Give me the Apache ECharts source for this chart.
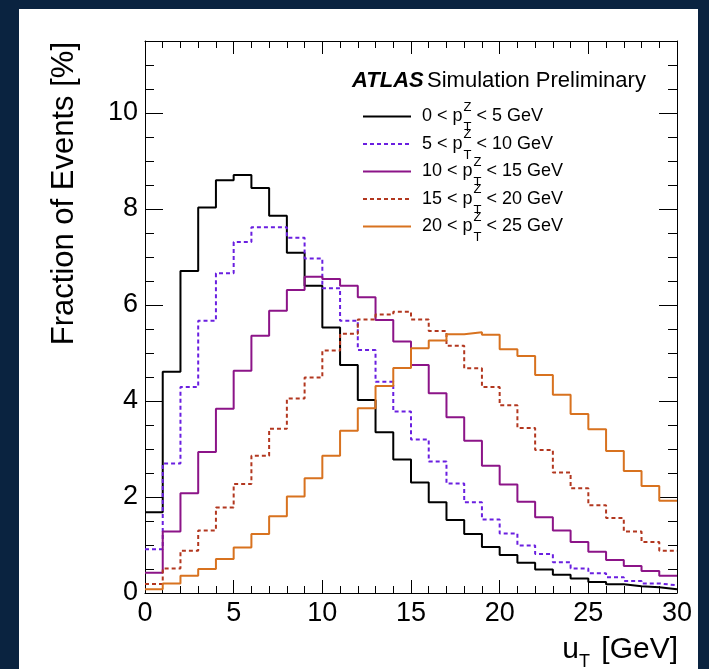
<!DOCTYPE html>
<html>
<head>
<meta charset="utf-8">
<script src="https://cdn.jsdelivr.net/npm/echarts@6/dist/echarts.min.js"></script>
<style>
  html, body { margin:0; padding:0; width:709px; height:669px; background:#0a2340; overflow:hidden; }
  #panel { position:absolute; left:19px; top:9px; width:679px; height:660px; background:#ffffff; }
  #chart { position:absolute; left:0; top:0; width:709px; height:669px; }
</style>
</head>
<body>
<div id="panel"></div>
<div id="chart"></div>
<script>
// Bin edges: 0..30 GeV, 1 GeV bins (lower edges)
var binEdges = [0,1,2,3,4,5,6,7,8,9,10,11,12,13,14,15,16,17,18,19,20,21,22,23,24,25,26,27,28,29,30];

// Fraction of events [%] per bin
var pt0to5   = [1.68, 4.61, 6.71, 8.03, 8.60, 8.71, 8.44, 7.86, 7.09, 6.40, 5.53, 4.75, 4.02, 3.35, 2.78, 2.30, 1.89, 1.52, 1.23, 0.96, 0.79, 0.63, 0.49, 0.38, 0.30, 0.23, 0.18, 0.14, 0.12, 0.08];
var pt5to10  = [0.91, 2.70, 4.29, 5.67, 6.66, 7.31, 7.62, 7.62, 7.40, 6.97, 6.35, 5.67, 5.06, 4.40, 3.78, 3.20, 2.74, 2.28, 1.89, 1.53, 1.24, 0.99, 0.81, 0.64, 0.51, 0.41, 0.33, 0.25, 0.20, 0.16];
var pt10to15 = [0.42, 1.28, 2.08, 2.94, 3.84, 4.63, 5.36, 5.88, 6.31, 6.59, 6.54, 6.40, 6.16, 5.69, 5.24, 4.75, 4.16, 3.66, 3.17, 2.65, 2.26, 1.90, 1.58, 1.30, 1.06, 0.86, 0.69, 0.56, 0.46, 0.36];
var pt15to20 = [0.19, 0.51, 0.88, 1.30, 1.78, 2.27, 2.86, 3.42, 4.05, 4.49, 5.05, 5.40, 5.70, 5.80, 5.86, 5.70, 5.46, 5.15, 4.68, 4.29, 3.91, 3.44, 2.98, 2.51, 2.18, 1.83, 1.56, 1.28, 1.06, 0.88];
var pt20to25 = [0.08, 0.20, 0.36, 0.50, 0.71, 0.95, 1.23, 1.60, 2.01, 2.39, 2.86, 3.38, 3.85, 4.31, 4.69, 5.10, 5.26, 5.39, 5.43, 5.38, 5.08, 4.94, 4.54, 4.13, 3.73, 3.41, 2.96, 2.54, 2.23, 1.92];

// Legend labels (prefix, suffix around p_T^Z)
var legendPrefix = ['0 < p', '5 < p', '10 < p', '15 < p', '20 < p'];
var legendSuffix = [' < 5 GeV', ' < 10 GeV', ' < 15 GeV', ' < 20 GeV', ' < 25 GeV'];

var xTicks = [0, 5, 10, 15, 20, 25, 30];
var yTicks = [0, 2, 4, 6, 8, 10];

var seriesDefs = [
  { name: legendPrefix[0] + 'Z' + legendSuffix[0], data: pt0to5,   color: '#000000', dash: 'solid' },
  { name: legendPrefix[1] + 'Z' + legendSuffix[1], data: pt5to10,  color: '#6a1fe0', dash: [4, 3] },
  { name: legendPrefix[2] + 'Z' + legendSuffix[2], data: pt10to15, color: '#8c1488', dash: 'solid' },
  { name: legendPrefix[3] + 'Z' + legendSuffix[3], data: pt15to20, color: '#b2371f', dash: [4, 3] },
  { name: legendPrefix[4] + 'Z' + legendSuffix[4], data: pt20to25, color: '#d8721f', dash: 'solid' }
];

var FONT = '"Liberation Sans", Arial, Helvetica, sans-serif';

function histPoints(vals) {
  var pts = [];
  for (var i = 0; i < vals.length; i++) pts.push([binEdges[i], vals[i]]);
  pts.push([binEdges[vals.length], vals[vals.length - 1]]);
  return pts;
}

var chart = echarts.init(document.getElementById('chart'), null, { renderer: 'canvas' });

var tickStyle = { color: '#000', width: 1 };
function xAxisCfg(pos, showLabel) {
  return {
    type: 'value', min: 0, max: 30, interval: 5, position: pos,
    axisLine: { show: true, onZero: false, lineStyle: { color: '#000', width: 1 } },
    axisTick: { show: true, inside: true, length: 13, lineStyle: tickStyle },
    minorTick: { show: true, splitNumber: 5, length: 7, lineStyle: tickStyle },
    axisLabel: { show: showLabel, fontSize: 27, color: '#000', margin: 7, fontFamily: FONT,
      formatter: function (v) { return xTicks.indexOf(v) >= 0 ? String(v) : ''; } },
    splitLine: { show: false }, minorSplitLine: { show: false }
  };
}
function yAxisCfg(pos, interval, len, showLabel, showLine) {
  return {
    type: 'value', min: 0, max: 11.5, interval: interval, position: pos,
    axisLine: { show: showLine, onZero: false, lineStyle: { color: '#000', width: 1 } },
    axisTick: { show: true, inside: true, length: len, lineStyle: tickStyle },
    axisLabel: { show: showLabel, fontSize: 27, color: '#000', margin: 7, fontFamily: FONT,
      showMaxLabel: false,
      formatter: function (v) { return yTicks.indexOf(v) >= 0 ? String(v) : ''; } },
    splitLine: { show: false }
  };
}

// measure text widths for legend layout
var mctx = document.createElement('canvas').getContext('2d');
function textW(str, size) { mctx.font = size + 'px ' + FONT; return mctx.measureText(str).width; }

var graphics = [];
// Header
graphics.push({
  type: 'text', left: 352, top: 70, z: 10,
  style: {
    text: '{a|ATLAS} {b|Simulation Preliminary}',
    rich: {
      a: { fontFamily: FONT, fontSize: 22, fontWeight: 'bold', fontStyle: 'italic', fill: '#000' },
      b: { fontFamily: FONT, fontSize: 22, fill: '#000' }
    }
  }
});
// Legend
var rowY = [116.5, 144, 171.5, 199, 226.5];
var lx0 = 363, lx1 = 411, tx = 422;
for (var r = 0; r < seriesDefs.length; r++) {
  var s = seriesDefs[r], y = rowY[r];
  graphics.push({ type: 'line', z: 10, shape: { x1: lx0, y1: y, x2: lx1, y2: y },
    style: { stroke: s.color, lineWidth: 2, lineDash: s.dash === 'solid' ? null : s.dash } });
  var w1 = textW(legendPrefix[r], 18);
  graphics.push({ type: 'text', z: 10, x: tx, y: y, style: { text: legendPrefix[r], font: '18px ' + FONT, fill: '#000', verticalAlign: 'middle' } });
  graphics.push({ type: 'text', z: 10, x: tx + w1 + 1, y: y - 9.5, style: { text: 'Z', font: '13px ' + FONT, fill: '#000', verticalAlign: 'middle' } });
  graphics.push({ type: 'text', z: 10, x: tx + w1 + 1, y: y + 11, style: { text: 'T', font: '13px ' + FONT, fill: '#000', verticalAlign: 'middle' } });
  graphics.push({ type: 'text', z: 10, x: tx + w1 + 9, y: y, style: { text: legendSuffix[r], font: '18px ' + FONT, fill: '#000', verticalAlign: 'middle' } });
}
// Y axis title
graphics.push({ type: 'text', z: 10, x: 64, y: 42, rotation: Math.PI / 2,
  style: { text: 'Fraction of Events [%]', font: '31px ' + FONT, fill: '#000', align: 'right', verticalAlign: 'middle' } });
// X axis title
graphics.push({ type: 'text', z: 10, x: 678, y: 649.6, style: { text: '[GeV]', font: '30px ' + FONT, fill: '#000', align: 'right', verticalAlign: 'middle' } });
graphics.push({ type: 'text', z: 10, x: 579, y: 649.6, style: { text: 'u', font: '30px ' + FONT, fill: '#000', align: 'right', verticalAlign: 'middle' } });
graphics.push({ type: 'text', z: 10, x: 579, y: 662.5, style: { text: 'T', font: '18px ' + FONT, fill: '#000', align: 'left', verticalAlign: 'middle' } });

var option = {
  backgroundColor: 'transparent',
  animation: false,
  grid: { left: 145, right: 32, top: 41, bottom: 76, containLabel: false },
  xAxis: [ xAxisCfg('bottom', true), xAxisCfg('top', false) ],
  yAxis: [
    yAxisCfg('left', 2, 18, true, true),
    yAxisCfg('left', 0.5, 9, false, false),
    yAxisCfg('right', 2, 18, false, true),
    yAxisCfg('right', 0.5, 9, false, false)
  ],
  series: seriesDefs.map(function (s) {
    return {
      name: s.name, type: 'line', step: 'end', xAxisIndex: 0, yAxisIndex: 0,
      data: histPoints(s.data), symbol: 'none', showSymbol: false, clip: true,
      lineStyle: { color: s.color, width: 2, type: s.dash },
      z: 3
    };
  }),
  graphic: graphics
};
chart.setOption(option);
</script>
</body>
</html>
